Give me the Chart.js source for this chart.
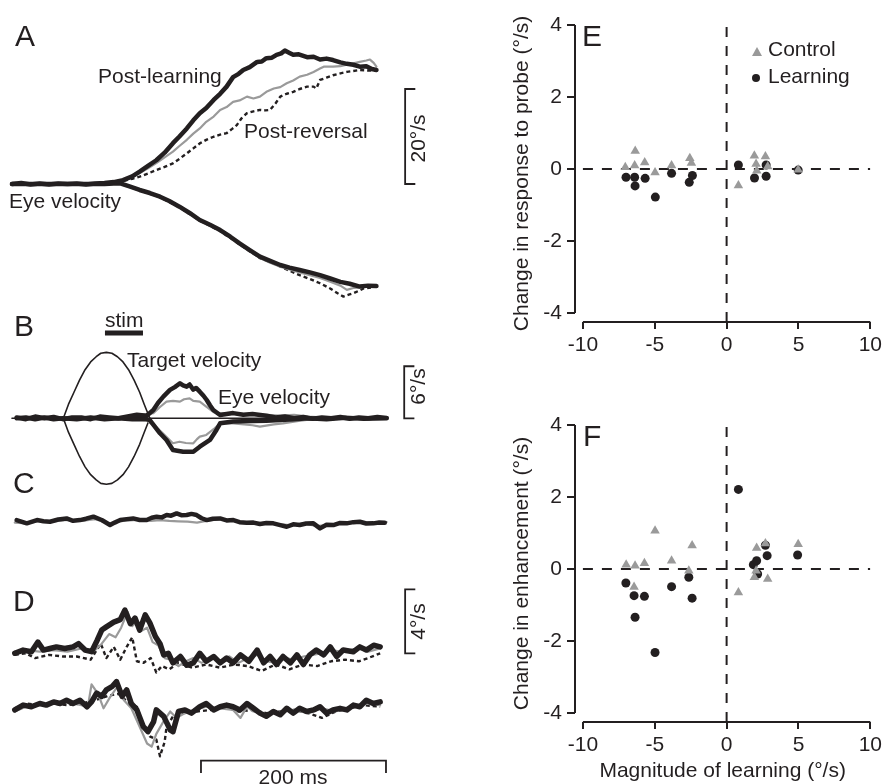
<!DOCTYPE html>
<html>
<head>
<meta charset="utf-8">
<script src="https://cdn.jsdelivr.net/npm/chart.js@4.4.0/dist/chart.umd.min.js"></script>
<style>
body { margin: 0; background: #fff; width: 883px; height: 784px; position: relative; overflow: hidden;
       font-family: "Liberation Sans", Arial, Helvetica, sans-serif; color: #231f20; }
canvas { position: absolute; }
.lbl { position: absolute; font-size: 21px; line-height: 21px; white-space: nowrap; }
.big { font-size: 30px; line-height: 30px; }
.rot { text-align: center; }
.tri { position: absolute; width: 0; height: 0; border-left: 5px solid transparent; border-right: 5px solid transparent; border-bottom: 9px solid #999; }
.dot { position: absolute; width: 8px; height: 8px; border-radius: 50%; background: #231f20; }
</style>
</head>
<body>
<canvas id="chartA" width="450" height="310" style="left:0;top:0"></canvas>
<canvas id="chartB" width="450" height="200" style="left:0;top:300px"></canvas>
<canvas id="chartC" width="450" height="55" style="left:0;top:495px"></canvas>
<canvas id="chartD" width="450" height="224" style="left:0;top:560px"></canvas>
<canvas id="chartE" width="381" height="360" style="left:505px;top:0"></canvas>
<canvas id="chartF" width="381" height="384" style="left:505px;top:400px"></canvas>

<div class="lbl big" style="left:15px;top:21px">A</div>
<div class="lbl big" style="left:14px;top:311px">B</div>
<div class="lbl big" style="left:13px;top:468px">C</div>
<div class="lbl big" style="left:13px;top:586px">D</div>
<div class="lbl big" style="left:582px;top:21px">E</div>
<div class="lbl big" style="left:583px;top:421px">F</div>

<div class="lbl" style="left:98px;top:65px">Post-learning</div>
<div class="lbl" style="left:244px;top:120px">Post-reversal</div>
<div class="lbl" style="left:9px;top:190px">Eye velocity</div>
<div class="lbl" style="left:105px;top:309px">stim</div>
<div class="lbl" style="left:127px;top:349px">Target velocity</div>
<div class="lbl" style="left:218px;top:386px">Eye velocity</div>
<div class="lbl rot" style="left:377px;top:128px;width:80px;transform:rotate(-90deg)">20°/s</div>
<div class="lbl rot" style="left:377px;top:376px;width:80px;transform:rotate(-90deg)">6°/s</div>
<div class="lbl rot" style="left:377px;top:611px;width:80px;transform:rotate(-90deg)">4°/s</div>
<div class="lbl rot" style="left:243px;top:766px;width:100px">200 ms</div>

<div class="tri" style="left:752px;top:47px"></div>
<div class="dot" style="left:752px;top:74px"></div>
<div class="lbl" style="left:768px;top:38px">Control</div>
<div class="lbl" style="left:768px;top:65px">Learning</div>

<script>
const ink = '#231f20';
const grey = '#9a9a9a';
const fontFamily = '"Liberation Sans", Arial, Helvetica, sans-serif';

// ---- panel A: eye velocity (deg/s) vs time (ms) ----
const aUpBlack = [[0,0],[10,0.2],[20,-0.1],[30,0.1],[40,-0.1],[50,0.1],[60,0],[70,0.1],[80,-0.1],[90,0.1],[100,0.2],[110,0.4],[120,0.8],[130,1.6],[138,2.6],[147,3.8],[156,5.0],[165,6.6],[174,8.6],[181,10.0],[189,11.7],[196,13.4],[203,14.9],[210,16.0],[218,17.7],[225,19.0],[232,20.5],[239,22.5],[245,23.2],[250,24.0],[257,24.6],[265,25.7],[270,25.8],[275,26.5],[281,26.6],[286,27.2],[291,27.5],[295,28.1],[300,27.6],[304,27.2],[310,27.3],[319,26.7],[326,26.8],[333,26.2],[340,26.4],[347,26.1],[355,25.6],[362,25.3],[369,25.1],[376,24.7],[383,24.8],[389,24.2],[394,24.0]];
const aUpGrey = [[0,0],[20,0.1],[40,-0.1],[60,0.1],[80,0],[100,0.2],[110,0.4],[120,0.8],[130,1.5],[138,2.3],[147,3.3],[156,4.4],[165,5.6],[174,6.8],[181,8.0],[189,9.3],[196,10.6],[203,11.7],[210,13.1],[218,14.2],[225,15.6],[232,16.2],[239,17.3],[246,17.6],[254,18.4],[261,18.0],[268,18.4],[275,19.4],[283,20.1],[290,20.4],[297,21.2],[304,21.8],[311,22.6],[319,23.0],[326,23.6],[333,24.3],[337,24.7],[347,24.7],[355,24.8],[362,25.1],[369,25.4],[376,25.7],[383,26.0],[387,26.2],[391,25.5],[394,24.7]];
const aUpDash = [[0,0],[40,0],[80,0],[100,0.1],[110,0.3],[120,0.6],[130,1.1],[138,1.55],[147,2.2],[156,2.95],[165,3.6],[174,4.35],[181,5.3],[189,6.45],[196,7.5],[203,8.55],[210,9.3],[218,9.95],[225,10.4],[232,10.7],[238,11.6],[243,12.4],[248,13.8],[254,14.9],[261,15.3],[268,15.6],[274,15.5],[279,15.6],[285,17.0],[290,18.4],[297,19.0],[304,19.4],[311,20.0],[319,20.5],[326,20.5],[329,20.1],[333,21.9],[340,22.4],[347,22.9],[355,23.3],[362,23.6],[369,23.8],[376,24.0],[385,23.9],[394,23.9]];
const aLowBlack = [[0,0],[20,0],[40,0],[60,0],[80,0],[100,0],[110,0.1],[117,0.15],[127,-0.5],[138,-1.26],[149,-1.9],[160,-2.67],[170,-3.6],[181,-4.77],[192,-6.1],[203,-7.58],[214,-8.6],[225,-9.7],[236,-11.1],[246,-12.5],[257,-13.9],[268,-15.3],[279,-16.2],[290,-17.05],[300,-17.6],[311,-18.1],[322,-18.6],[333,-19.2],[344,-19.9],[355,-20.6],[365,-21.0],[376,-21.6],[385,-21.4],[394,-21.5]];
const aLowGrey = [[0,0],[100,0],[117,0.1],[127,-0.6],[138,-1.4],[149,-2.0],[160,-2.8],[170,-3.7],[181,-4.9],[192,-6.3],[203,-7.8],[214,-8.7],[225,-9.9],[236,-11.3],[246,-12.7],[257,-14.1],[268,-15.6],[279,-16.6],[290,-17.4],[300,-18.0],[311,-18.6],[322,-19.2],[333,-19.8],[344,-20.6],[355,-21.4],[362,-22.3],[369,-21.9],[376,-21.8],[387,-21.4],[394,-21.6]];
const aLowDash = [[0,0],[100,0],[117,0.1],[127,-0.6],[138,-1.3],[160,-2.8],[181,-4.9],[203,-7.7],[225,-9.9],[246,-12.7],[268,-15.6],[283,-16.7],[297,-18.0],[311,-19.2],[322,-20.0],[333,-20.9],[344,-22.0],[352,-23.0],[358,-23.7],[364,-23.3],[369,-23.0],[376,-22.4],[380,-22.0],[388,-21.8]];
const aScaleBar = [[436,20],[425,20],[425,0],[436,0]];

// ---- panel B: target and eye velocity ----
const bTargetUp = [[0,0],[55.5,0],[61,1.6],[67,3.0],[73,4.4],[79,5.6],[85,6.5],[91,7.1],[96,7.5],[102,7.6],[108,7.5],[114,7.1],[120,6.5],[126,5.6],[132,4.4],[138,3.0],[143,1.6],[149,0],[405,0]];
const bTargetDown = [[55.5,0],[61,-1.6],[67,-3.0],[73,-4.4],[79,-5.6],[85,-6.5],[91,-7.1],[96,-7.5],[102,-7.6],[108,-7.5],[114,-7.1],[120,-6.5],[126,-5.6],[132,-4.4],[138,-3.0],[143,-1.6],[149,0]];
const bUpBlack = [[5,0.1],[15,-0.1],[25,0.2],[35,0],[45,0.15],[55,-0.1],[65,0.1],[75,0.1],[85,-0.1],[95,0.2],[105,0.1],[115,0],[125,0.2],[135,0.4],[145.6,0.3],[152.8,0.96],[158,1.8],[163.6,2.5],[170.8,3.27],[176,3.6],[181.6,4.04],[185,3.8],[188.8,3.65],[192,3.9],[196,3.3],[199,3.5],[203,3.07],[207,2.6],[210.5,2.11],[214,1.5],[217.6,0.96],[224.9,0.38],[232,0.5],[239,0.6],[250,0.4],[260,0.5],[275,0.3],[285,0.1],[295,0.2],[305,0],[315,0.15],[325,-0.05],[335,0.1],[345,0],[355,0.15],[365,-0.05],[375,0.1],[385,0],[395,0.15],[405,0.05]];
const bUpGrey = [[5,0],[20,0.1],[35,-0.1],[50,0.1],[65,0],[80,0.15],[95,-0.05],[110,0.1],[125,0.2],[140,0.4],[152.8,0.58],[160,1.3],[167,1.92],[174,2.0],[181.6,1.92],[186,2.2],[192,2.3],[196,2.0],[203,1.92],[210,1.35],[218,0.7],[225,0.58],[239,0.6],[255,0.45],[275,0.4],[290,0.3],[305,0.4],[320,0.2],[335,0.1],[350,0],[365,0.1],[380,-0.05],[395,0.1],[405,0]];
const bLowBlack = [[5,0],[15,0.1],[25,-0.1],[35,0.1],[45,-0.1],[55,0],[70,-0.1],[85,0.1],[100,-0.1],[115,0],[130,-0.1],[145,-0.1],[149,-0.2],[160,-1.73],[167,-2.5],[174,-3.65],[185,-3.85],[196,-3.85],[203,-3.27],[214,-2.5],[221,-1.35],[225,-0.58],[239,-0.38],[260,-0.3],[275,-0.27],[290,-0.2],[305,-0.1],[320,0],[340,-0.1],[360,0.05],[380,-0.05],[405,0]];
const bLowGrey = [[5,0],[30,0.05],[60,-0.05],[90,0.05],[120,-0.05],[145,-0.2],[156,-1.0],[163,-1.73],[174,-2.88],[181,-2.7],[188,-2.85],[196,-2.88],[200,-2.4],[203,-2.11],[210,-1.92],[219,-1.15],[225,-0.58],[239,-0.58],[260,-0.8],[268,-0.96],[283,-0.7],[293,-0.58],[310,-0.3],[325,-0.1],[345,0],[365,-0.1],[385,0.05],[405,0]];
const bStimBar = [[100.5,9.84],[141.6,9.84]];
const bScaleBar = [[435,6],[424,6],[424,0],[435,0]];

// ---- panel C ----
const cBlack = [[5,0.19],[16,-0.19],[27,0.19],[34,0.05],[41,0],[50,0.25],[59,0.38],[66,0.1],[73.5,0.19],[80,0.35],[88,0.58],[97,0.2],[106,-0.38],[111,-0.1],[117,0.19],[124,0.3],[131,0.38],[138,0.2],[145.6,0.19],[151,0.45],[156.4,0.58],[162,0.5],[167.2,0.77],[172,0.7],[178,0.96],[183,0.75],[188.8,0.77],[194,0.9],[199.6,0.77],[205,0.4],[210.5,0.19],[217,0.35],[224.9,0.38],[232,0.15],[239.3,0.19],[246,-0.05],[253.7,-0.12],[261,-0.1],[268,-0.27],[275,-0.15],[282.5,-0.19],[290,-0.4],[297,-0.58],[304,-0.3],[311,-0.38],[318,-0.2],[325.8,-0.19],[333,-0.77],[340,-0.35],[347.4,-0.38],[354,-0.15],[361.8,-0.19],[369,-0.05],[376,0],[383,-0.2],[390.6,-0.19],[397,-0.1],[403,-0.12]];
const cGrey = [[3,-0.1],[16,-0.2],[30,0.1],[45,0.05],[60,0.2],[75,0.1],[90,0.3],[105,-0.2],[120,0.1],[135,0.2],[150,0.1],[160,0.19],[170,0.1],[180,0.05],[190,0],[200,-0.1],[210,0.1],[225,0.3],[240,0.1],[255,-0.1],[270,-0.2],[285,-0.25],[300,-0.4],[315,-0.2],[330,-0.5],[345,-0.3],[360,-0.2],[375,-0.05],[390,-0.1],[405,-0.05]];

// ---- panel D ----
const dUpBlack = [[3,0],[12,0.2],[21,0.1],[28,0.7],[34,0.2],[41,0.3],[48,0.4],[57,0.3],[66,0.4],[72,0.6],[79,0.2],[86,0.1],[92,0.8],[97,1.45],[102,1.65],[110,1.95],[117,2.1],[122,2.7],[128,1.85],[133,2.2],[138,1.45],[144,2.4],[149,1.9],[155,1.05],[160,0.6],[164,-0.1],[169,0],[174,-0.6],[182,-0.2],[189,-0.75],[196,-0.6],[203,0],[210,-0.5],[218,-0.2],[225,-0.6],[232,-0.3],[239,-0.6],[247,-0.1],[256,-0.5],[265,0.2],[272,-0.6],[279,-0.2],[286,-0.7],[293,-0.2],[301,-0.6],[308,-0.1],[315,-0.7],[322,-0.1],[329,0.2],[337,-0.1],[344,0.4],[351,-0.2],[358,0.2],[369,0.1],[376,0.4],[383,0.2],[391,0.5],[398,0.4]];
const dUpGrey = [[3,0.1],[15,0.2],[30,0.1],[45,0.2],[60,0.1],[75,0.3],[90,0.2],[97,0.6],[105,1.2],[112,1.0],[118,1.6],[125,2.6],[130,1.7],[135,2.0],[140,1.4],[146,1.6],[152,0.7],[158,0.5],[165,-0.3],[172,-0.4],[180,-0.8],[188,-0.5],[196,-0.3],[205,-0.6],[215,-0.3],[225,-0.5],[235,-0.2],[245,-0.6],[255,-0.3],[265,-0.1],[275,-0.5],[285,-0.6],[295,-0.3],[305,-0.4],[315,-0.2],[325,-0.1],[335,0],[345,0.2],[355,0.1],[365,0.2],[375,0.3],[385,0.1],[398,0.3]];
const dUpDash = [[3,-0.1],[15,0],[25,-0.3],[40,-0.1],[55,-0.2],[70,-0.2],[85,-0.4],[96,0.6],[102,-0.3],[110,0.4],[117,-0.4],[124,0.4],[130,1.0],[135,-0.5],[142,-0.6],[150,-0.3],[156,-1.2],[162,-0.8],[170,-1.0],[180,-0.6],[195,-0.9],[210,-0.7],[225,-0.9],[240,-0.7],[255,-0.8],[270,-1.1],[285,-0.7],[300,-1.0],[315,-0.7],[330,-0.8],[345,-0.5],[360,-0.4],[375,-0.5],[385,-0.3],[398,0]];
const dLowBlack = [[3,-0.1],[12,0.2],[21,0.1],[30,0.3],[37,0.2],[45,0.4],[52,0.3],[59,0.5],[66,0.3],[73.5,0.5],[81,0.1],[86,0.4],[91.5,0.95],[97,0.75],[102,1.15],[108,1.35],[113,1.67],[119,0.75],[124,1.15],[129,0.3],[135,-0.1],[142,-1.15],[147,-1.46],[153,-0.85],[156,-0.1],[164,-0.5],[171,-1.35],[174,-1.46],[180,-0.2],[187,-0.1],[194,-0.3],[203,0.1],[210,0.3],[218,-0.1],[225,0.1],[232,0.2],[239,0.1],[246.5,-0.1],[254,0.3],[261,0],[268,-0.3],[275,-0.5],[282.5,-0.2],[290,-0.4],[297,0],[304,-0.3],[311,0],[318.5,-0.2],[326,-0.1],[333,0.1],[340,-0.3],[347,-0.1],[354.6,0],[362,-0.1],[369,0.2],[376,0.1],[383,0.5],[390.6,0.3],[398,0.4]];
const dLowGrey = [[3,-0.2],[15,0.1],[30,0.2],[45,0.3],[60,0.4],[75,0.2],[82,0.1],[86,1.5],[93,0.9],[99,0],[106,0.7],[114,1.35],[121,0.5],[129,0],[138,-1.15],[146,-2.2],[151,-2.4],[156,-1.6],[164,-0.8],[171,-0.2],[178,-0.6],[187,-0.3],[196,-0.1],[210,0.1],[225,0],[239,-0.1],[247,-0.6],[254,0.1],[261,-0.2],[275,-0.4],[290,-0.2],[305,-0.1],[320,-0.3],[335,0],[350,-0.2],[365,0.1],[380,0.3],[398,0.2]];
const dLowDash = [[3,0],[15,0.3],[30,0.2],[45,0.3],[60,0.2],[75,0.3],[90,0.5],[105,0.8],[115,0.9],[121,0.6],[128,0.3],[135,0.1],[142,-1.05],[149,-1.75],[156,-1.95],[160,-3.0],[165,-2.1],[167,-1.2],[174,-0.5],[185,-0.3],[200,-0.2],[215,-0.1],[230,0.1],[245,-0.2],[260,-0.1],[275,-0.3],[290,-0.2],[305,-0.1],[320,-0.3],[335,-0.6],[350,-0.2],[365,0],[380,0.2],[398,0.1]];
const dScaleBar = [[436,4],[425,4],[425,0],[436,0]];
const timeBar = [[204.3,-7.48],[204.3,-6.71],[404.3,-6.71],[404.3,-7.48]];

// ---- panels E, F: scatter ----
const xTicks = [-10, -5, 0, 5, 10];
const yTicks = [-4, -2, 0, 2, 4];
const ctrlEx = [-7.05,-6.36,-6.4,-5.7,-4.98,-3.83,-2.56,-2.45,0.82,1.93,2.05,2.1,2.7,2.86,4.98];
const ctrlEy = [0.05,0.5,0.1,0.18,-0.1,0.1,0.3,0.17,-0.46,0.37,0.14,-0.05,0.35,0.07,-0.02];
const learnEx = [-7.0,-6.4,-6.37,-5.67,-4.96,-3.83,-2.6,-2.38,0.82,1.94,2.75,2.75,4.98];
const learnEy = [-0.23,-0.23,-0.47,-0.26,-0.78,-0.12,-0.37,-0.18,0.11,-0.25,-0.2,0.11,-0.03];
const ctrlFx = [-6.99,-6.37,-6.44,-5.72,-4.98,-3.83,-2.63,-2.4,0.82,2.09,1.93,2.05,2.7,2.86,4.98];
const ctrlFy = [0.12,0.09,-0.5,0.16,1.06,0.23,-0.05,0.65,-0.65,0.58,-0.23,-0.05,0.71,-0.28,0.69];
const learnFx = [-7.01,-6.44,-6.37,-5.72,-4.98,-3.83,-2.63,-2.4,0.82,1.86,2.09,2.16,2.7,2.82,4.94];
const learnFy = [-0.39,-0.74,-1.34,-0.76,-2.32,-0.49,-0.23,-0.81,2.21,0.12,0.23,-0.14,0.66,0.37,0.39];

// ---------------------------------------------------------------
function trace(pairs, kind, axis) {
    const ds = {
        data: pairs.map(p => ({ x: p[0], y: p[1] })),
        showLine: true, pointRadius: 0, fill: false, tension: 0,
        borderJoinStyle: 'round', borderCapStyle: 'round',
        borderColor: ink, borderWidth: 2
    };
    if (kind === 'thick') ds.borderWidth = 4.5;
    if (kind === 'heavy') ds.borderWidth = 5.5;
    if (kind === 'grey') { ds.borderColor = grey; ds.borderWidth = 2.2; }
    if (kind === 'dash') { ds.borderWidth = 2.4; ds.borderDash = [4, 3]; ds.borderCapStyle = 'butt'; }
    if (kind === 'thin') { ds.borderWidth = 1.6; }
    if (kind === 'bar') { ds.borderWidth = 1.8; ds.borderCapStyle = 'butt'; ds.borderJoinStyle = 'miter'; }
    if (kind === 'stim') { ds.borderWidth = 5; ds.borderCapStyle = 'butt'; }
    if (axis) ds.yAxisID = axis;
    return ds;
}

function traceChart(id, datasets, yRanges) {
    const scales = { x: { type: 'linear', display: false, min: -12.97, max: 473.5 } };
    Object.keys(yRanges).forEach(k => {
        scales[k] = { type: 'linear', display: false, min: yRanges[k][0], max: yRanges[k][1] };
    });
    new Chart(document.getElementById(id), {
        type: 'scatter',
        data: { datasets },
        options: {
            responsive: false, animation: false,
            layout: { padding: 0 },
            plugins: { legend: { display: false }, tooltip: { enabled: false } },
            scales
        }
    });
}

traceChart('chartA', [
    trace(aUpBlack, 'thick'), trace(aLowBlack, 'thick'),
    trace(aUpGrey, 'grey'), trace(aLowGrey, 'grey'),
    trace(aUpDash, 'dash'), trace(aLowDash, 'dash'),
    trace(aScaleBar, 'bar')
], { y: [-26.53, 38.74] });

traceChart('chartB', [
    trace(bUpBlack, 'thick'), trace(bLowBlack, 'thick'),
    trace(bUpGrey, 'grey'), trace(bLowGrey, 'grey'),
    trace(bTargetUp, 'thin'), trace(bTargetDown, 'thin'),
    trace(bStimBar, 'stim'), trace(bScaleBar, 'bar')
], { y: [-9.42, 13.64] });

traceChart('chartC', [
    trace(cBlack, 'thick'), trace(cGrey, 'grey')
], { y: [-3.26, 3.08] });

traceChart('chartD', [
    trace(dUpBlack, 'heavy'), trace(dUpGrey, 'grey'), trace(dUpDash, 'dash'),
    trace(dLowBlack, 'heavy', 'y2'), trace(dLowGrey, 'grey', 'y2'), trace(dLowDash, 'dash', 'y2'),
    trace(dScaleBar, 'bar'), trace(timeBar, 'bar')
], { y: [-8.17, 5.83], y2: [-4.73, 9.27] });

// detached axis lines drawn from the scales' own pixel mapping
const detachedAxes = {
    id: 'detachedAxes',
    afterDraw(chart) {
        const { ctx, chartArea, scales } = chart;
        ctx.save();
        ctx.strokeStyle = ink;
        ctx.lineWidth = 2;
        ctx.beginPath();
        ctx.moveTo(chartArea.left, scales.y.getPixelForValue(yTicks[yTicks.length - 1]));
        ctx.lineTo(chartArea.left, scales.y.getPixelForValue(yTicks[0]));
        ctx.moveTo(scales.x.getPixelForValue(xTicks[0]), chartArea.bottom);
        ctx.lineTo(scales.x.getPixelForValue(xTicks[xTicks.length - 1]), chartArea.bottom);
        ctx.stroke();
        ctx.restore();
    }
};

function pts(xs, ys) { return xs.map((x, i) => ({ x, y: ys[i] })); }

function scatterChart(id, cx, cy, lx, ly, yTitle, xTitle) {
    const refLine = (data) => ({
        data, showLine: true, pointRadius: 0, borderColor: ink, borderWidth: 2,
        borderDash: [10, 9], fill: false
    });
    new Chart(document.getElementById(id), {
        type: 'scatter',
        data: {
            datasets: [
                { data: pts(cx, cy), pointStyle: 'triangle', pointRadius: 5.5, backgroundColor: grey, borderWidth: 0 },
                { data: pts(lx, ly), pointStyle: 'circle', pointRadius: 4.5, backgroundColor: ink, borderWidth: 0 },
                refLine([{ x: xTicks[0], y: 0 }, { x: xTicks[xTicks.length - 1], y: 0 }]),
                refLine([{ x: 0, y: -4.25 }, { x: 0, y: yTicks[yTicks.length - 1] }])
            ]
        },
        options: {
            responsive: false, animation: false,
            layout: { padding: { left: 0, right: 14, top: 25, bottom: 0 } },
            plugins: { legend: { display: false }, tooltip: { enabled: false } },
            scales: {
                x: {
                    type: 'linear', min: -10.55, max: 10,
                    afterBuildTicks: s => { s.ticks = xTicks.map(v => ({ value: v })); },
                    afterFit: s => { s.height = xTitle ? 62 : 38; },
                    border: { display: false },
                    grid: { drawOnChartArea: false, drawTicks: true, tickLength: 7, color: ink, lineWidth: 2 },
                    ticks: { color: ink, padding: 4, maxRotation: 0, autoSkip: false,
                             font: { size: 21, family: fontFamily }, callback: v => String(v) },
                    title: { display: !!xTitle, text: xTitle || '', color: ink,
                             font: { size: 21, family: fontFamily }, padding: { top: 0, bottom: 0 } }
                },
                y: {
                    type: 'linear', min: -4.25, max: 4,
                    afterBuildTicks: s => { s.ticks = yTicks.map(v => ({ value: v })); },
                    afterFit: s => { s.width = 70; },
                    border: { display: false },
                    grid: { drawOnChartArea: false, drawTicks: true, tickLength: 8, color: ink, lineWidth: 2 },
                    ticks: { color: ink, padding: 5, autoSkip: false,
                             font: { size: 21, family: fontFamily }, callback: v => String(v) },
                    title: { display: true, text: yTitle, color: ink,
                             font: { size: 21, family: fontFamily }, padding: { top: 5, bottom: 0 } }
                }
            }
        },
        plugins: [detachedAxes]
    });
}

scatterChart('chartE', ctrlEx, ctrlEy, learnEx, learnEy, 'Change in response to probe (°/s)', null);
scatterChart('chartF', ctrlFx, ctrlFy, learnFx, learnFy, 'Change in enhancement (°/s)', 'Magnitude of learning (°/s)');
</script>
</body>
</html>
